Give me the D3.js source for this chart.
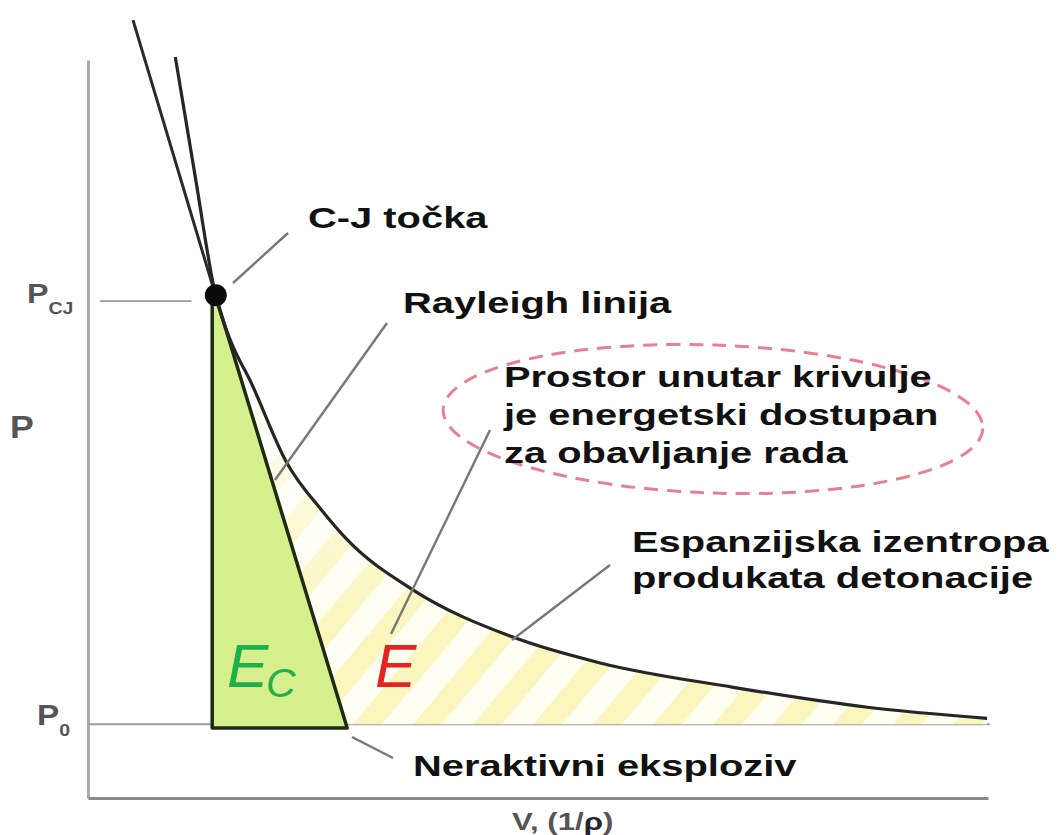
<!DOCTYPE html>
<html>
<head>
<meta charset="utf-8">
<script src="https://cdn.jsdelivr.net/npm/d3@7"></script>
<style>
  body { margin: 0; background: #fff; }
  svg { display: block; }
  .lbl { font-family: "Liberation Sans", Arial, sans-serif; font-weight: bold; font-size: 30px; fill: #111; }
  .ax { font-family: "Liberation Sans", Arial, sans-serif; font-weight: bold; fill: #555; }
</style>
</head>
<body>
<svg id="chart" width="1058" height="835"></svg>
<script>
// values (V and P in arbitrary units)
const isentropeV = [0.97, 1.19, 1.42, 1.60, 1.80, 2.21, 2.61, 2.88, 3.61, 4.72, 5.69, 7.17, 8.66, 9.99];
const isentropeP = [10.04, 8.43, 6.80, 6.15, 5.66, 4.54, 3.88, 3.50, 2.82, 2.18, 1.83, 1.50, 1.23, 1.08];
const rayleighV = [0.50, 1.42, 2.88];
const rayleighP = [10.54, 6.80, 0.95];
const cjPoint = { V: 1.42, P: 6.80 };
const P0 = 1.0, PCJ = 6.80;
const vLeft = 1.38;        // left edge of the E_c triangle
const tickLabels = ["P", "P", "P"];   // P_CJ, P, P_0

let svg = d3.select('#chart'),
    width = +svg.attr("width"),
    height = +svg.attr("height");

var x = d3.scaleLinear().domain([0, 10]).range([88, 988]);
var y = d3.scaleLinear().domain([0, 10]).range([798, 60]);

var defs = svg.append("defs");

var pat = defs.append("pattern")
    .attr("id", "stripes")
    .attr("patternUnits", "userSpaceOnUse")
    .attr("width", 46).attr("height", 46)
    .attr("patternTransform", "rotate(40)");
pat.append("rect").attr("width", 46).attr("height", 46).attr("fill", "#fffef3");
pat.append("rect").attr("width", 22).attr("height", 46).attr("fill", "#faf6bd");

var grad = defs.append("linearGradient")
    .attr("id", "fade")
    .attr("gradientUnits", "userSpaceOnUse")
    .attr("x1", 0).attr("y1", 380).attr("x2", 0).attr("y2", 620);
grad.append("stop").attr("offset", 0).attr("stop-color", "#fff").attr("stop-opacity", 0.1);
grad.append("stop").attr("offset", 1).attr("stop-color", "#fff").attr("stop-opacity", 1);
defs.append("mask").attr("id", "fadeMask")
    .append("rect").attr("width", width).attr("height", height).attr("fill", "url(#fade)");

// axes
svg.append("g")
    .attr("transform", "translate(" + x(0) + ",0)")
    .call(d3.axisLeft(y).tickValues([]).tickSizeOuter(0))
    .select(".domain").attr("stroke", "#aaa").attr("stroke-width", 3);
svg.append("g")
    .attr("transform", "translate(0," + y(0) + ")")
    .call(d3.axisBottom(x).tickValues([]).tickSizeOuter(0))
    .select(".domain").attr("stroke", "#8a8a8a").attr("stroke-width", 3);

// P0 line and P_CJ tick
svg.append("line")
    .attr("x1", x(0)).attr("x2", x(10.02))
    .attr("y1", y(P0)).attr("y2", y(P0))
    .attr("stroke", "#9a9a9a").attr("stroke-width", 2);
svg.append("line")
    .attr("x1", x(0.13)).attr("x2", x(1.15))
    .attr("y1", y(PCJ) + 5).attr("y2", y(PCJ) + 5)
    .attr("stroke", "#999").attr("stroke-width", 1.8);

var iso = isentropeV.map(function(v, i) { return [v, isentropeP[i]]; });
var line = d3.line()
    .x(function(d) { return x(d[0]); })
    .y(function(d) { return y(d[1]); })
    .curve(d3.curveMonotoneX);

// hatched region E
var below = iso.filter(function(d) { return d[0] >= cjPoint.V; });
var regionPath = line(below) +
    "L" + x(isentropeV[isentropeV.length - 1]) + "," + y(P0) +
    "L" + x(rayleighV[2] - 0.02) + "," + y(P0) + "Z";
svg.append("path")
    .attr("d", regionPath)
    .attr("fill", "url(#stripes)")
    .attr("mask", "url(#fadeMask)");

// triangle E_c
var tri = [[vLeft, PCJ], [vLeft, rayleighP[2]], [rayleighV[2], rayleighP[2]], [cjPoint.V, cjPoint.P]];
svg.append("path")
    .attr("d", d3.line().x(function(d) { return x(d[0]); }).y(function(d) { return y(d[1]); })(tri) + "Z")
    .attr("fill", "#d4ef8c")
    .attr("stroke", "#1e2b12")
    .attr("stroke-width", 3.5)
    .attr("stroke-linejoin", "round");

// Rayleigh line above the CJ point
svg.append("line")
    .attr("x1", x(rayleighV[0])).attr("y1", y(rayleighP[0]))
    .attr("x2", x(rayleighV[1])).attr("y2", y(rayleighP[1]))
    .attr("stroke", "#2a2a2a").attr("stroke-width", 3);

// isentrope
svg.append("path")
    .attr("d", line(iso))
    .attr("fill", "none")
    .attr("stroke", "#262626")
    .attr("stroke-width", 3.2);

// CJ point
svg.append("circle")
    .attr("cx", x(cjPoint.V)).attr("cy", y(cjPoint.P) - 1)
    .attr("r", 11)
    .attr("fill", "#0a0a0a");

// leader lines
var leaders = [
    [233, 283, 288, 233],
    [387, 323, 275, 480],
    [490, 430, 391, 634],
    [610, 565, 512, 640],
    [352, 737, 393, 758]
];
svg.selectAll(".leader").data(leaders).enter().append("line")
    .attr("class", "leader")
    .attr("x1", function(d) { return d[0]; }).attr("y1", function(d) { return d[1]; })
    .attr("x2", function(d) { return d[2]; }).attr("y2", function(d) { return d[3]; })
    .attr("stroke", "#777").attr("stroke-width", 2.4);

// dashed ellipse
svg.append("ellipse")
    .attr("cx", 713).attr("cy", 419)
    .attr("rx", 270).attr("ry", 74)
    .attr("transform", "rotate(2,713,419)")
    .attr("fill", "none")
    .attr("stroke", "#e06b7c")
    .attr("stroke-width", 3)
    .attr("stroke-dasharray", "14 9")
    .attr("opacity", 0.85);

// annotation labels
var labels = [
    ["C-J točka", 308, 228],
    ["Rayleigh linija", 403, 313],
    ["Prostor unutar krivulje", 504, 387],
    ["je energetski dostupan", 504, 425],
    ["za obavljanje rada", 504, 463],
    ["Espanzijska izentropa", 632, 552],
    ["produkata detonacije", 632, 588],
    ["Neraktivni eksploziv", 413, 776]
];
svg.selectAll(".lbl").data(labels).enter().append("text")
    .attr("class", "lbl")
    .attr("transform", function(d) { return "translate(" + d[1] + "," + d[2] + ") scale(1.33,1)"; })
    .text(function(d) { return d[0]; });

// E_c and E
var ec = svg.append("text")
    .attr("x", 227).attr("y", 687)
    .attr("font-family", "Liberation Sans, Arial, sans-serif")
    .attr("font-style", "italic")
    .attr("font-size", 62)
    .attr("fill", "#1fb04b");
ec.append("tspan").text("E");
ec.append("tspan").attr("x", 266).attr("y", 697).attr("font-size", 41).text("C");

svg.append("text")
    .attr("x", 375).attr("y", 687)
    .attr("font-family", "Liberation Sans, Arial, sans-serif")
    .attr("font-style", "italic")
    .attr("font-size", 62)
    .attr("fill", "#e52421")
    .text("E");

// axis tick labels
var tl = [
    { t: tickLabels[0], sub: "CJ", x: 27, y: 303, fs: 28 },
    { t: tickLabels[1], sub: "", x: 10, y: 438, fs: 31 },
    { t: tickLabels[2], sub: "0", x: 37, y: 725, fs: 29 }
];
tl.forEach(function(d) {
    var g = svg.append("text")
        .attr("class", "ax")
        .attr("transform", "translate(" + d.x + "," + d.y + ") scale(1.15,1)")
        .attr("font-size", d.fs);
    g.append("tspan").text(d.t);
    if (d.sub) g.append("tspan").attr("dy", 11).attr("font-size", 17).text(d.sub);
});

var xl = svg.append("text")
    .attr("class", "ax")
    .attr("transform", "translate(512,830) scale(1.3,1)")
    .attr("font-size", 24);
xl.append("tspan").text("V, (1/");
xl.append("tspan").attr("fill", "#223").text("ρ");
xl.append("tspan").text(")");
</script>
</body>
</html>
